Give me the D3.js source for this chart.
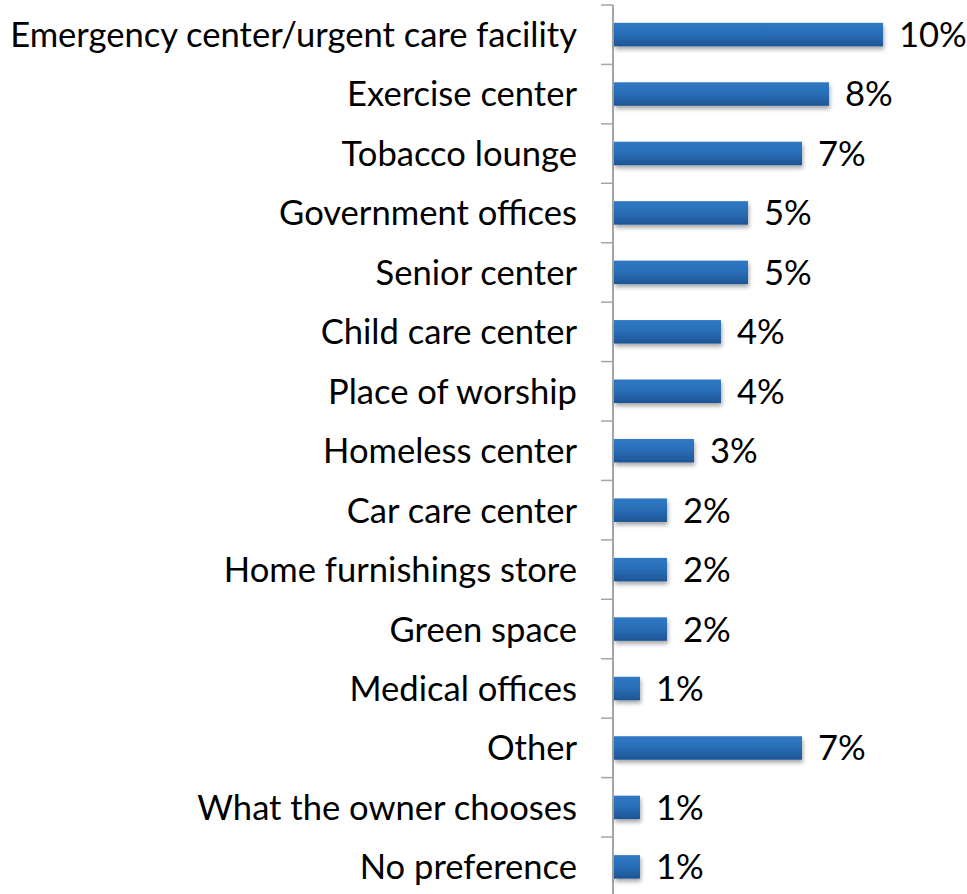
<!DOCTYPE html>
<html><head><meta charset="utf-8">
<script src="https://cdn.jsdelivr.net/npm/d3@7"></script>
<style>html,body{margin:0;padding:0;background:#fff;}svg{display:block;}</style>
</head><body>
<script>
const categories = ["Emergency center/urgent care facility","Exercise center","Tobacco lounge","Government offices","Senior center","Child care center","Place of worship","Homeless center","Car care center","Home furnishings store","Green space","Medical offices","Other","What the owner chooses","No preference"];
const values = [10,8,7,5,5,4,4,3,2,2,2,1,7,1,1];
const valueLabels = ["10%","8%","7%","5%","5%","4%","4%","3%","2%","2%","2%","1%","7%","1%","1%"];

const W = 967, H = 894;
const svg = d3.select("body").append("svg").attr("width", W).attr("height", H);
const defs = svg.append("defs");
const grad = defs.append("linearGradient").attr("id","bg").attr("x1",0).attr("y1",0).attr("x2",0).attr("y2",1);
grad.append("stop").attr("offset","0%").attr("stop-color","#2f78c4");
grad.append("stop").attr("offset","45%").attr("stop-color","#2a6fb8");
grad.append("stop").attr("offset","100%").attr("stop-color","#1d5595");
const f = defs.append("filter").attr("id","sh").attr("x","-5%").attr("y","-30%").attr("width","115%").attr("height","190%");
f.append("feDropShadow").attr("dx",1).attr("dy",3).attr("stdDeviation",2).attr("flood-color","#000").attr("flood-opacity",0.35);

const x0 = 613;
const x = d3.scaleLinear().domain([0,10]).range([x0, x0 + 270]);
const step = 59.43;
const y = d3.scaleBand().domain(categories).range([5, 5 + step*categories.length]).paddingInner(0.605).paddingOuter(0.3);

const fontFam = "Lato, 'Open Sans', sans-serif";
// fit label font to reference width
let fs = 31;
const tmp = svg.append("text").attr("font-family", fontFam).attr("font-size", fs).text(categories[0]);
const wlen = tmp.node().getComputedTextLength();
tmp.remove();
fs = fs * 567 / wlen;

// ticks
const bounds = d3.range(categories.length + 1).map(i => 5 + i*step);
svg.append("g").selectAll("line").data(bounds).join("line")
  .attr("x1", 601).attr("x2", x0).attr("y1", d => d).attr("y2", d => d)
  .attr("stroke", "#a6a6a6").attr("stroke-width", 1.5);
svg.append("line").attr("x1", x0).attr("x2", x0).attr("y1", 5).attr("y2", H)
  .attr("stroke", "#a6a6a6").attr("stroke-width", 2);

svg.append("g").attr("filter","url(#sh)").selectAll("rect").data(categories).join("rect")
  .attr("x", x(0) + 1).attr("y", d => y(d))
  .attr("width", (d,i) => x(values[i]) - x(0) - 1)
  .attr("height", y.bandwidth())
  .attr("fill", "url(#bg)");

const capOff = fs * 0.36;
svg.append("g").selectAll("text").data(categories).join("text")
  .attr("x", 577).attr("y", d => y(d) + y.bandwidth()/2 + capOff)
  .attr("text-anchor", "end").attr("font-family", fontFam).attr("font-size", fs)
  .attr("fill", "#000").text(d => d);

svg.append("g").selectAll("text").data(categories).join("text")
  .attr("x", (d,i) => x(values[i]) + 16).attr("y", d => y(d) + y.bandwidth()/2 + capOff)
  .attr("font-family", fontFam).attr("font-size", fs)
  .attr("fill", "#000").text((d,i) => valueLabels[i]);
</script>
</body></html>
